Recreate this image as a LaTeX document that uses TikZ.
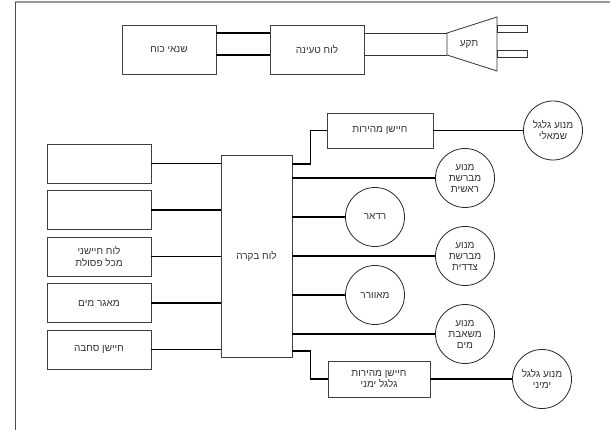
\documentclass[tikz,border=0pt]{standalone}
\usepackage{fontspec}
\newfontfamily\hebfont[Script=Hebrew]{Liberation Sans}
\TeXXeTstate=1
\newcommand{\heb}[1]{\beginR#1\endR}

\begin{document}
\begin{tikzpicture}[x=1pt, y=-1pt,
        box/.style={draw=black!75, line width=0.8pt, rectangle, inner sep=0pt,
            font=\hebfont\fontsize{10}{11.5}\selectfont, text=black!80, align=center},
        motor/.style={draw=black!85, line width=0.8pt, circle, minimum size=59pt, inner sep=0pt,
            font=\hebfont\fontsize{10}{11}\selectfont, text=black!80, align=center},
        wire/.style={line width=1.6pt, black},
        thinwire/.style={line width=0.9pt, black!80}]
        \useasboundingbox (0,0) rectangle (610,430);
        \draw[black!40, line width=1.5pt] (15,2) -- (610,2);
        \draw[black!70, line width=0.8pt] (15,2) -- (15,430);

        \node[box, minimum width=94pt, minimum height=49pt] (trafo) at (169,49.5) {\heb{שנאי כוח}};
        \node[box, minimum width=94pt, minimum height=49pt] (charge) at (317,49.5) {\heb{לוח טעינה}};
        \coordinate (pinA) at (447,33);
        \coordinate (pinB) at (447,55);
        \draw[black!80, line width=0.8pt] (pinA) -- (497,17) -- (497,71) -- (pinB) -- cycle;
        \draw[black!80, line width=0.8pt] (497,25) rectangle (527,32);
        \draw[black!80, line width=0.8pt] (497,50) rectangle (527,57);
        \node[font=\hebfont\fontsize{10}{11.5}\selectfont, text=black!80] (plug) at (469,44) {\heb{תקע}};

        \draw[wire] (trafo.east |- pinA) -- (charge.west |- pinA);
        \draw[wire] (trafo.east |- pinB) -- (charge.west |- pinB);
        \draw[thinwire] (charge.east |- pinA) -- (pinA);
        \draw[thinwire] (charge.east |- pinB) -- (pinB);

        \node[box, minimum width=71pt, minimum height=202pt] (ctrl) at (256.5,256) {\heb{לוח בקרה}};

        \node[box, minimum width=104pt, minimum height=39pt] (in1) at (99,163.5) {};
        \node[box, minimum width=104pt, minimum height=39pt] (in2) at (99,210) {};
        \node[box, minimum width=104pt, minimum height=39pt] (in3) at (99,256.5) {\heb{לוח חיישני}\\\heb{מכל פסולת}};
        \node[box, minimum width=104pt, minimum height=39pt] (in4) at (99,303) {\heb{מאגר מים}};
        \node[box, minimum width=104pt, minimum height=39pt] (in5) at (99,349.5) {\heb{חיישן סחבה}};

        \foreach \n in {in1,in2,in3,in4,in5}
            \draw[wire] (\n.east) -- (\n.east -| ctrl.west);

        \node[box, minimum width=106pt, minimum height=35pt] (spdL) at (380,130.5) {\heb{חיישן מהירות}};
        \node[motor] (motL) at (553,130.5) {\heb{מנוע גלגל}\\\heb{שמאלי}};
        \node[motor] (brushM) at (465,178) {\heb{מנוע}\\\heb{מברשת}\\\heb{ראשית}};
        \node[motor] (radar) at (375,217) {\heb{רדאר}};
        \node[motor] (brushS) at (465,256) {\heb{מנוע}\\\heb{מברשת}\\\heb{צדדית}};
        \node[motor] (fan) at (375,295) {\heb{מאוורר}};
        \node[motor] (pump) at (465,334) {\heb{מנוע}\\\heb{משאבת}\\\heb{מים}};
        \node[box, minimum width=102pt, minimum height=36pt] (spdR) at (379,379) {\heb{חיישן מהירות}\\\heb{גלגל ימני}};
        \node[motor] (motR) at (542,379) {\heb{מנוע גלגל}\\\heb{ימיני}};

        \draw[wire] (ctrl.east |- 0,164) -- ++(18,0) |- (spdL.west);
        \draw[wire] (spdL.east) -- (motL.west);
        \foreach \m in {brushM,radar,brushS,fan,pump}
            \draw[wire] (ctrl.east |- \m) -- (\m.west);
        \draw[wire] (ctrl.east |- 0,351) -- ++(18,0) |- (spdR.west);
        \draw[wire] (spdR.east) -- (motR.west);
\end{tikzpicture}
\end{document}
